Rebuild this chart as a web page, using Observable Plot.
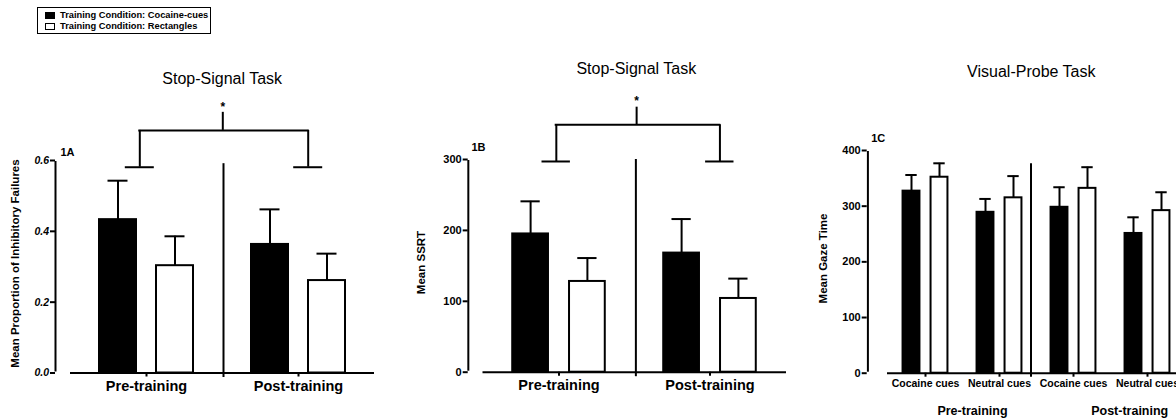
<!DOCTYPE html>
<html>
<head>
<meta charset="utf-8">
<script src="https://cdn.jsdelivr.net/npm/d3@7"></script>
<script src="https://cdn.jsdelivr.net/npm/@observablehq/plot@0.6"></script>
<style>
html, body { margin: 0; padding: 0; background: #fff; overflow: hidden; width: 1176px; height: 419px; }
body { position: relative; font-family: "Liberation Sans", Arial, Helvetica, sans-serif; }
.panel { position: absolute; top: 0; }
.panel svg { max-width: none !important; background: transparent; display: block; }
#legend { position: absolute; left: 37px; top: 7px; width: 174px; height: 27px; box-sizing: border-box; border: 1.4px solid #000; background: #fff; }
#legend .sw { position: absolute; left: 6.5px; width: 10px; height: 7px; box-sizing: border-box; border: 1.3px solid #000; }
#legend .tx { position: absolute; left: 22px; font-size: 9.3px; line-height: 9px; font-weight: bold; white-space: nowrap; color: #000; }
</style>
</head>
<body>
<div id="legend"></div>
<script>
// ---------------- data ----------------
const conditions = ["Training Condition: Cocaine-cues", "Training Condition: Rectangles"];
const conditionFills = ["#000", "#fff"];
const phases = ["Pre-training", "Post-training"];
const cues = ["Cocaine cues", "Neutral cues"];

// 1A  Stop-Signal Task: mean proportion of inhibitory failures (Pre, Post)
const inhibCocaine = [0.433, 0.363];
const inhibCocaineSem = [0.110, 0.099];
const inhibRect = [0.303, 0.261];
const inhibRectSem = [0.083, 0.076];

// 1B  Stop-Signal Task: mean SSRT (Pre, Post)
const ssrtCocaine = [195, 168];
const ssrtCocaineSem = [46, 48];
const ssrtRect = [128, 104];
const ssrtRectSem = [33, 28];

// 1C  Visual-Probe Task: mean gaze time
// order: Pre/Cocaine cues, Pre/Neutral cues, Post/Cocaine cues, Post/Neutral cues
const gazeCocaine = [327, 289, 298, 251];
const gazeCocaineSem = [29, 24, 36, 29];
const gazeRect = [352, 315, 332, 292];
const gazeRectSem = [25, 39, 38, 33];

const ticksA = [0, 0.2, 0.4, 0.6];
const ticksB = [0, 100, 200, 300];
const ticksC = [0, 100, 200, 300, 400];

const keysC = phases.flatMap(p => cues.map(c => p + "|" + c));

// ---------------- legend ----------------
const legend = document.getElementById("legend");
conditions.forEach((name, i) => {
  const sw = document.createElement("div");
  sw.className = "sw";
  sw.style.top = (i === 0 ? 4.2 : 14.8) + "px";
  sw.style.background = conditionFills[i];
  legend.appendChild(sw);
  const tx = document.createElement("div");
  tx.className = "tx";
  tx.style.top = (i === 0 ? 3.2 : 13.8) + "px";
  tx.textContent = name;
  legend.appendChild(tx);
});

// ---------------- panels ----------------
const FONT = '"Liberation Sans", Arial, Helvetica, sans-serif';

function panel(cfg) {
  const height = 419;
  const {keys, series, left, width, mL, mR, mT, mB, ticks} = cfg;
  const yMax = ticks[ticks.length - 1];
  const band = (width - mL - mR) / keys.length;
  const pxPerUnit = (height - mT - mB) / yMax;
  const fL = left + mL, fR = left + width - mR;
  const center = k => fL + band * (keys.indexOf(k) + 0.5);
  const c0 = center(keys[0]);
  const marks = [];

  series.forEach(s => {
    const rows = keys.map((k, i) => ({k, v: s.values[i], e: s.values[i] + s.sem[i]}));
    const bi = (band - cfg.barW) / 2;
    const ci = (band - cfg.capW) / 2;
    marks.push(Plot.barY(rows, {x: "k", y: "v", fill: s.fill, stroke: "#000", strokeWidth: 2, insetLeft: bi, insetRight: bi, dx: s.dx}));
    marks.push(Plot.ruleX(rows, {x: "k", y1: "v", y2: "e", dx: s.dx, stroke: "#000", strokeWidth: 2}));
    marks.push(Plot.tickY(rows, {x: "k", y: "e", dx: s.dx, insetLeft: ci, insetRight: ci, stroke: "#000", strokeWidth: 2}));
  });

  // baseline (x axis line)
  marks.push(Plot.ruleY([0], {stroke: "#000", strokeWidth: 2}));
  // y axis line (offset to the left of the x axis)
  marks.push(Plot.ruleX([keys[0]], {y1: 0, y2: yMax, dx: cfg.yAxisX - c0, stroke: "#000", strokeWidth: 2, insetTop: -1, insetBottom: -1}));
  marks.push(Plot.axisY({
    ticks, tickFormat: cfg.yFmt, tickSize: 5, tickPadding: 1.5, dx: cfg.yAxisX - fL,
    fontSize: cfg.yTickFont, fontWeight: "bold", fontStyle: cfg.yItalic ? "italic" : "normal",
    stroke: "#000", strokeWidth: 2, fill: "#000", label: null
  }));
  marks.push(Plot.axisX({
    tickSize: 4, tickPadding: cfg.xTickPad, fontSize: cfg.xTickFont, fontWeight: "bold",
    tickFormat: cfg.xFmt, stroke: "#000", strokeWidth: 2, fill: "#000", label: null
  }));

  // divider between pre and post
  const d = cfg.divider;
  marks.push(Plot.ruleX([d.key], {y1: -d.below / pxPerUnit, y2: d.top, dx: d.x - center(d.key), stroke: "#000", strokeWidth: 2}));

  // significance bracket
  if (cfg.bracket) {
    const b = cfg.bracket;
    const st = {stroke: "#000", strokeWidth: 2};
    marks.push(Plot.ruleX([keys[0]], {y1: b.legBottom, y2: b.top, dx: b.xL - c0, ...st}));
    marks.push(Plot.ruleX([keys[0]], {y1: b.legBottom, y2: b.top, dx: b.xR - c0, ...st}));
    marks.push(Plot.ruleX([keys[0]], {y1: b.top, y2: b.stemTop, dx: b.xS - c0, ...st}));
    marks.push(Plot.ruleY([b.top], {insetLeft: b.xL - fL - 1, insetRight: fR - b.xR - 1, ...st}));
    marks.push(Plot.ruleY([b.legBottom], {insetLeft: b.xL - b.capHalf - fL, insetRight: fR - (b.xL + b.capHalf), ...st}));
    marks.push(Plot.ruleY([b.legBottom], {insetLeft: b.xR - b.capHalf - fL, insetRight: fR - (b.xR + b.capHalf), ...st}));
    marks.push(Plot.text([keys[0]], {x: k => k, y: () => b.stemTop, text: () => "*", dx: b.xS - c0, dy: b.starDy,
      lineAnchor: "bottom", fontSize: 12, fontWeight: "bold", fill: "#000"}));
  }

  // title
  marks.push(Plot.text([cfg.title], {frameAnchor: "top", lineAnchor: "bottom", textAnchor: "middle",
    dx: cfg.titleX - (fL + fR) / 2, dy: cfg.titleBaseline - mT, fontSize: 16, fill: "#000"}));
  // panel label
  marks.push(Plot.text([cfg.label], {frameAnchor: "top-left", textAnchor: "start", lineAnchor: "bottom",
    dx: cfg.labelX - fL, dy: cfg.labelBaseline - mT, fontSize: 11, fontWeight: "bold", fill: "#000"}));
  // y axis label
  marks.push(Plot.text([cfg.yLabel], {frameAnchor: "left", rotate: -90, textAnchor: "middle", lineAnchor: "middle",
    dx: cfg.yLabelX - fL, dy: cfg.yLabelY - (mT + height - mB) / 2, fontSize: 11.5, fontWeight: "bold", fill: "#000"}));
  // extra group labels
  (cfg.groupLabels || []).forEach(g => {
    marks.push(Plot.text([g.key], {x: k => k, frameAnchor: "bottom", lineAnchor: "bottom", text: () => g.text,
      dx: g.x - center(g.key), dy: g.baseline - (height - mB), fontSize: 12.5, fontWeight: "bold", fill: "#000"}));
  });

  const svg = Plot.plot({
    width, height, marginLeft: mL, marginRight: mR, marginTop: mT, marginBottom: mB,
    x: {type: "band", domain: keys, paddingInner: 0, paddingOuter: 0},
    y: {domain: [0, yMax]},
    style: {fontFamily: FONT, background: "transparent", overflow: "visible", maxWidth: "none", color: "#000"},
    marks
  });
  const div = document.createElement("div");
  div.className = "panel";
  div.style.left = left + "px";
  div.appendChild(svg);
  document.body.appendChild(div);
}

// 1A
panel({
  keys: phases, left: 0, width: 390, mL: 70, mR: 16, mT: 160, mB: 46.5, ticks: ticksA,
  series: [
    {values: inhibCocaine, sem: inhibCocaineSem, fill: conditionFills[0], dx: -28.5},
    {values: inhibRect, sem: inhibRectSem, fill: conditionFills[1], dx: 28.5}
  ],
  barW: 37, capW: 20, yFmt: d3.format(".1f"), yItalic: true, yTickFont: 10.5, yAxisX: 55,
  xTickFont: 14.5, xTickPad: 3.5,
  divider: {key: phases[1], x: 223, top: 0.591, below: 4.5},
  bracket: {xL: 139.3, xR: 307.7, xS: 222.3, capHalf: 14.5, top: 0.685, legBottom: 0.581, stemTop: 0.736, starDy: -1},
  title: "Stop-Signal Task", titleX: 221.7, titleBaseline: 83.2,
  label: "1A", labelX: 60, labelBaseline: 155,
  yLabel: "Mean Proportion of Inhibitory Failures", yLabelX: 14.5, yLabelY: 263
});

// 1B
panel({
  keys: phases, left: 400, width: 390, mL: 82.5, mR: 4, mT: 159, mB: 47.3, ticks: ticksB,
  series: [
    {values: ssrtCocaine, sem: ssrtCocaineSem, fill: conditionFills[0], dx: -28.4},
    {values: ssrtRect, sem: ssrtRectSem, fill: conditionFills[1], dx: 28.4}
  ],
  barW: 36.5, capW: 20, yFmt: d => d, yItalic: false, yTickFont: 11, yAxisX: 467.7,
  xTickFont: 14.5, xTickPad: 3.5,
  divider: {key: phases[1], x: 636, top: 300, below: 4.5},
  bracket: {xL: 555.7, xR: 719.3, xS: 636, capHalf: 14.2, top: 349, legBottom: 297.2, stemTop: 373.8, starDy: -2},
  title: "Stop-Signal Task", titleX: 635.8, titleBaseline: 73.2,
  label: "1B", labelX: 471, labelBaseline: 150,
  yLabel: "Mean SSRT", yLabelX: 420.5, yLabelY: 262
});

// 1C
panel({
  keys: keysC, left: 790, width: 400, mL: 97, mR: 4.6, mT: 150, mB: 46.3, ticks: ticksC,
  series: [
    {values: gazeCocaine, sem: gazeCocaineSem, fill: conditionFills[0], dx: -14},
    {values: gazeRect, sem: gazeRectSem, fill: conditionFills[1], dx: 14}
  ],
  barW: 17.5, capW: 12, yFmt: d => d, yItalic: false, yTickFont: 11, yAxisX: 866.7,
  xTickFont: 10.5, xTickPad: 2.5, xFmt: d => d.split("|")[1],
  divider: {key: keysC[2], x: 1031, top: 376, below: 4},
  title: "Visual-Probe Task", titleX: 1030.8, titleBaseline: 76.7,
  label: "1C", labelX: 870.7, labelBaseline: 141.7,
  yLabel: "Mean Gaze Time", yLabelX: 823, yLabelY: 258,
  groupLabels: [
    {key: keysC[0], text: phases[0], x: 971.3, baseline: 414},
    {key: keysC[2], text: phases[1], x: 1129.7, baseline: 414}
  ]
});
</script>
</body>
</html>
